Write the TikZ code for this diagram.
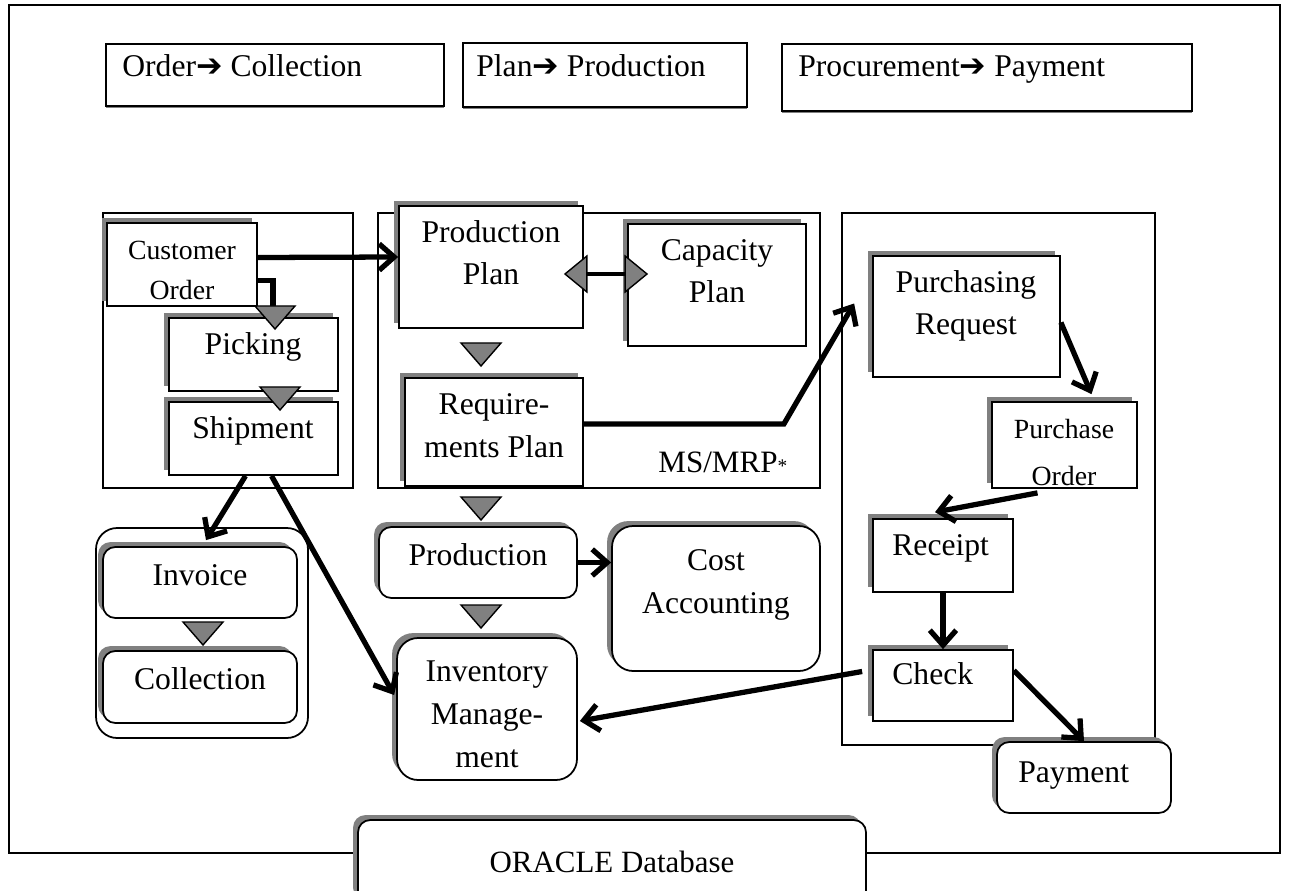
\documentclass[tikz,border=0pt]{standalone}
\usepackage{fontspec}
\setmainfont{Liberation Serif}
\newfontfamily\arrowfont{DejaVu Sans}
\usetikzlibrary{calc,fit,shadows,arrows.meta}
\definecolor{shadegray}{RGB}{128,128,128}
\tikzset{
  box/.style={draw, fill=white, line width=1pt, inner sep=0pt,
    general shadow={fill=shadegray, shadow xshift=-2.8pt, shadow yshift=2.8pt}},
  rbox/.style={box, rounded corners=7pt},
  grp/.style={draw, line width=1pt, inner sep=0pt},
  headbox/.style={grp, fill=white, general shadow={fill=shadegray, shadow yshift=-1pt}},
  txt/.style={font=\fontsize{18}{24.4}\selectfont, align=center, anchor=base, inner sep=0pt},
  ltxt/.style={txt, anchor=base west},
  stxt/.style={txt, font=\fontsize{15.8}{23.2}\selectfont},
  flow/.style={line width=3pt, -{Straight Barb[length=8.5pt,width=15pt]}},
  tri/.style={draw, fill=shadegray, line width=0.8pt},
}

\begin{document}
\begin{tikzpicture}[x=0.02cm, y=-0.02cm]
    \path[use as bounding box, clip] (0,0) rectangle (1290,891);
    % Outer frame
    \draw[line width=1pt] (9,5) rectangle (1280,853);

    % Headline boxes
    \node[headbox, fit={(106,44) (444,106)}] (hd1) {};
    \node[headbox, fit={(463,43) (747,107)}] (hd2) {};
    \node[headbox, fit={(782,44) (1192,111)}] (hd3) {};
    \node[ltxt] (hd1txt) at (122,77) {Order{\arrowfont ➔} Collection};
    \node[ltxt] (hd2txt) at (476,77) {Plan{\arrowfont ➔} Production};
    \node[ltxt] (hd3txt) at (798,77) {Procurement{\arrowfont ➔} Payment};

    % Groups
    \node[grp, fit={(103,213) (353,488)}] (ordgrp) {};
    \node[grp, fit={(378,213) (820,488)}] (mrpgrp) {};
    \node[grp, fit={(842,213) (1155,745)}] (procgrp) {};
    \node[grp, rounded corners=12pt, fit={(96,528) (308,738)}] (billgrp) {};
    \node[anchor=base west, inner sep=0pt, font=\fontsize{17.7}{20}\selectfont] (mrplbl) at (658,472)
        {MS/MRP{\fontsize{11}{11}\selectfont *}};

    % Order to collection
    \node[box, fit={(107,223) (257,306)}] (co) {};
    \node[box, fit={(169,318) (338,391)}] (pk) {};
    \node[box, fit={(169,402) (338,475)}] (sh) {};
    \node[rbox, fit={(103,547) (297,618)}] (iv) {};
    \node[rbox, fit={(103,651) (297,723)}] (cl) {};
    \node[stxt] (cotxt) at (182,300) {Customer\\Order};
    \node[txt] (pktxt) at (253,355) {Picking};
    \node[txt] (shtxt) at (253,438) {Shipment};
    \node[txt] (ivtxt) at (200,585) {Invoice};
    \node[txt] (cltxt) at (200,689) {Collection};

    % Plan to production
    \node[box, fit={(399,206) (583,328)}] (pp) {};
    \node[box, fit={(628,224) (806,346)}] (cp) {};
    \node[box, fit={(405,378) (583,486)}] (rp) {};
    \node[rbox, fit={(379,527) (577,598)}] (prod) {};
    \node[box, rounded corners=12pt, fit={(397,638) (577,780)}] (im) {};
    \node[box, rounded corners=12pt, fit={(612,526) (820,671)}] (ca) {};
    \node[txt] (pptxt) at (491,285) {Production\\Plan};
    \node[txt] (cptxt) at (717,303) {Capacity\\Plan};
    \node[txt] (rptxt) at (494,457) {Require-\\ments Plan};
    \node[txt] (prodtxt) at (478,565) {Production};
    \node[txt] (imtxt) at (487,767) {Inventory\\Manage-\\ment};
    \node[txt] (catxt) at (716,613) {Cost\\Accounting};

    % Procurement to payment
    \node[box, fit={(873,256) (1060,377)}] (pr) {};
    \node[box, fit={(992,402) (1137,488)}] (po) {};
    \node[box, fit={(873,519) (1013,592)}] (rc) {};
    \node[box, fit={(873,650) (1013,721)}] (ck) {};
    \node[rbox, fit={(997,742) (1171,813)}] (pay) {};
    \node[txt] (prtxt) at (966,335) {Purchasing\\Request};
    \node[stxt, font=\fontsize{15.8}{26.6}\selectfont] (potxt) at (1064,485) {Purchase\\Order};
    \node[ltxt] (rctxt) at (892,555) {Receipt};
    \node[ltxt] (cktxt) at (892,684) {Check};
    \node[ltxt] (paytxt) at (1018,782) {Payment};

    % Database
    \node[rbox, fit={(358,820) (866,905)}] (db) {};
    \node[txt, font=\fontsize{17.6}{20}\selectfont] (dbtxt) at (612,872) {ORACLE Database};

    % Flow triangles
    \coordinate (tri1) at (273,306);
    \draw[line width=3pt] ($(co.east)+(0,16)$) -| (tri1);
    \foreach \x/\y in {275/306, 280/387, 481/343, 481/497, 481/605, 203/622}
        \draw[tri] (\x-20,\y) -- (\x+20,\y) -- (\x,\y+23) -- cycle;

    % Connections
    \draw[line width=2.8pt, {Triangle[length=13.5pt,width=22pt,fill=shadegray,line width=0.8pt]}-{Triangle[length=13.5pt,width=22pt,fill=shadegray,line width=0.8pt]}]
        ($(pp.east)+(-20,7)$) -- ($(cp.west)+(21,-11)$);
    \draw[flow] ($(co.east)+(0,-7)$) -- ($(pp.west)+(0,-10)$);
    \draw[flow] ($(rp.east)+(0,-8)$) -- ++(200,0) -- ($(pr.west)+(-18,-13)$);
    \draw[flow] ($(pr.east)+(0,6)$) -- ($(po.north)+(27,-7)$);
    \draw[flow] ($(po.south)+(-27,4)$) -- ($(rc.north)+(-8,-6)$);
    \draw[flow] (rc.south) -- (ck.north);
    \draw[flow] ($(ck.east)+(0,-15)$) -- (pay.north);
    \draw[flow] ($(ck.west)+(-10,-14)$) -- ($(im.east)+(2,12)$);
    \draw[flow] ($(sh.south)+(-8,0)$) -- ($(iv.north)+(6,-6)$);
    \draw[flow] ($(sh.south)+(18,0)$) -- ($(im.west)+(-2,-14)$);
    \draw[flow] (prod.east) -- (prod.east -| ca.west);
\end{tikzpicture}
\end{document}
